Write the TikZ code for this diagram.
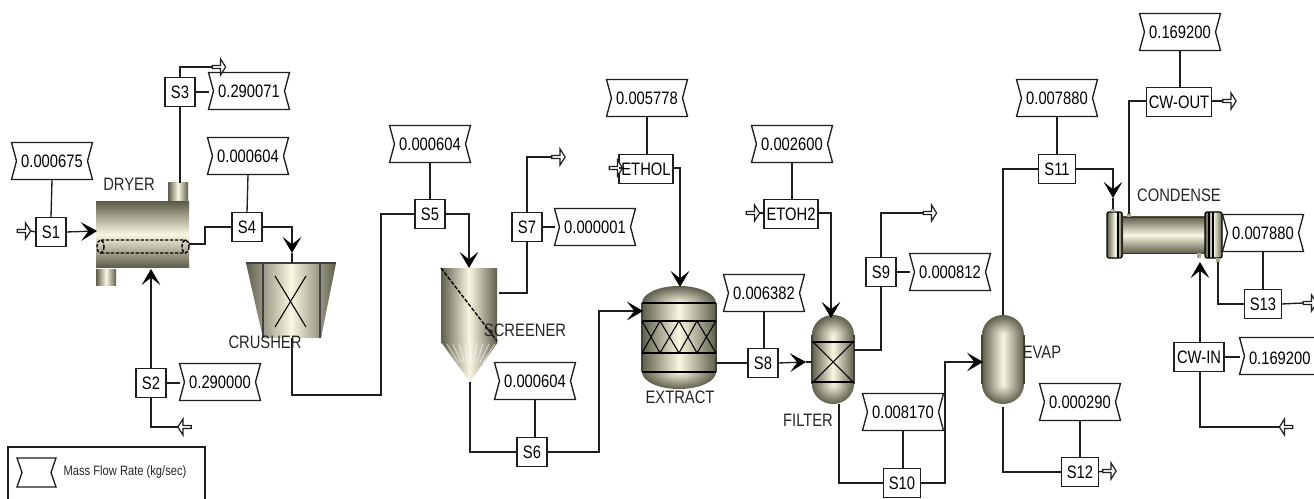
\documentclass[tikz,border=0pt]{standalone}
\usepackage{fontspec}
\setmainfont[FakeStretch=0.82]{Liberation Sans}
\usetikzlibrary{arrows.meta,calc,shapes.arrows}
\definecolor{ink}{HTML}{1E1E1E}
\definecolor{shdark}{HTML}{5E5E4C}
\definecolor{shmid}{HTML}{A9A992}
\definecolor{shlight}{HTML}{F8F8E2}
\tikzset{
  conn/.style={draw=ink,line width=1pt},
  flow/.style={conn,-{Stealth[length=12pt,width=14pt,inset=5.5pt,color=black]}},
  stream/.style={draw=ink,line width=1pt,fill=white,inner sep=0pt,outer sep=0pt,minimum width=22.5pt,minimum height=21.75pt,font=\fontsize{13.5}{15}\selectfont},
  widestream/.style={stream,minimum width=27.75pt},
  flagtext/.style={inner sep=0pt,outer sep=0pt,minimum width=60.75pt,minimum height=27.75pt,font=\fontsize{13.5}{15}\selectfont},
  flagline/.style={draw=ink,line width=1pt,line join=miter},
  lbl/.style={inner sep=0pt,outer sep=0pt,font=\fontsize{13.5}{15}\selectfont,text=black!85},
  portr/.style={single arrow,draw=ink,line width=.9pt,fill=white,inner sep=0pt,outer sep=0pt,minimum height=10pt,minimum width=12pt,single arrow head extend=2pt,single arrow tip angle=115,single arrow head indent=0pt},
  portl/.style={portr,shape border rotate=180},
  hgrad/.style={left color=shdark,right color=shdark,middle color=shlight},
  vgrad/.style={top color=shdark,bottom color=shdark,middle color=shlight},
  eqline/.style={draw=black,line width=.85pt},
}
\newcommand{\flagbox}[4]{%
  \node[flagtext] (#1) at (#2,#3) {#4};
  \draw[flagline] (#1.north west)--(#1.north east)--($(#1.east)+(-5,0)$)--(#1.south east)--(#1.south west)--($(#1.west)+(5,0)$)--cycle;}
% vessel: x-left, x-right, body top, body bottom, dome height
\newcommand{\vessel}[5]{%
  \pgfmathsetmacro{\vcx}{(#1+#2)/2}\pgfmathsetmacro{\vrx}{(#2-#1)/2}
  \begin{scope}\clip (#1-1,#3-#5-1) rectangle (#2+1,#3);
    \shade[inner color=shlight,outer color=shdark] (\vcx,#3) ellipse [x radius=\vrx,y radius=#5];
  \end{scope}
  \begin{scope}\clip (#1-1,#4) rectangle (#2+1,#4+#5+1);
    \shade[inner color=shlight,outer color=shdark] (\vcx,#4) ellipse [x radius=\vrx,y radius=#5];
  \end{scope}
  \shade[hgrad] (#1,#3) rectangle (#2,#4);
  \draw[draw=shdark!70!black,line width=.8pt] (#1,#3) -- (#1,#4) (#2,#3) -- (#2,#4);}
\begin{document}
\begin{tikzpicture}[x=0.75pt,y=-0.75pt]
\path[use as bounding box,clip] (0,0) rectangle (1314,499);
\fill[white] (0,0) rectangle (1314,499);

% ---------- equipment ----------
% dryer
\node[inner sep=0,outer sep=0,minimum width=69.75pt,minimum height=48.75pt,vgrad] (dryer) at (142.5,234.5) {};
\shade[hgrad] (168,183) rectangle (188,201);
\shade[hgrad] (96,269) rectangle (116,285);
\draw[black,line width=1pt,dash pattern=on 2.5pt off 1.2pt] (101,240) -- (186,240) (101,253) -- (186,253)
  (100.5,246.5) ellipse [x radius=3.5,y radius=6.5] (185.5,246.5) ellipse [x radius=3.5,y radius=6.5];
\coordinate (dryerIn) at (97,231);
\coordinate (dryerBot) at (151,269);
\coordinate (dryerTop) at (180,183);
\coordinate (dryerOut) at (189,244);

% crusher
\shade[hgrad] (246,263) -- (336,263) -- (321,338) -- (263,338) -- cycle;
\draw[eqline,draw=black!75] (246,263) -- (336,263) (263,263) -- (263,338) (320,263) -- (320,338);
\draw[black,line width=.8pt] (275,276) -- (306,327) (306,276) -- (275,327);
\coordinate (crusherIn) at (292,263);
\coordinate (crusherTip) at (292,253);
\coordinate (crusherOut) at (292,338);

% screener
\shade[hgrad] (441,268) rectangle (497,342);
\shade[hgrad] (441,342) -- (498,342) -- (470,382) -- cycle;
\foreach \xx in {447,453,...,495}{
  \draw[white,opacity=.7,line width=.5pt] (\xx,344) -- ({\xx+(470-\xx)*0.5},363);}
\draw[black,line width=1pt,dash pattern=on 3pt off 1.2pt] (441,268) -- (497,341);
\coordinate (screenIn) at (469,268);
\coordinate (screenTop) at (499,293);
\coordinate (screenBot) at (470,382);

% extract
\vessel{642}{716}{303}{372}{17}
\draw[eqline] (642,303) -- (716,303) (642,321) -- (716,321) (642,353) -- (716,353) (642,372) -- (716,372);
\draw[black,line width=.8pt] (642,321) -- (660,353) -- (679,321) -- (697,353) -- (716,321)
  (642,353) -- (660,321) -- (679,353) -- (697,321) -- (716,353);
\coordinate (extractTop) at (680,287);
\coordinate (extractIn) at (643,311);
\coordinate (extractOut) at (716,363);

% filter
\vessel{812}{854}{335}{384}{20}
\draw[eqline] (812,342) -- (854,342) (812,382) -- (854,382);
\draw[black,line width=.8pt] (813,342) -- (853,382) (853,342) -- (813,382);
\coordinate (filterTop) at (831,318);
\coordinate (filterIn) at (806,362);
\coordinate (filterEdge) at (812,362);
\coordinate (filterOut) at (854,350);
\coordinate (filterBot) at (839,404);

% evaporator
\vessel{982}{1024}{335}{384}{20}
\coordinate (evapIn) at (983,362);
\coordinate (evapTop) at (1003,315);
\coordinate (evapBot) at (1003,407);

% condenser
\shade[vgrad] (1122,217) rectangle (1205,253);
\shade[hgrad,rounded corners=1.5pt] (1107,212) rectangle (1123,258);
\shade[hgrad,rounded corners=1.5pt] (1205,212) rectangle (1222,258);
\draw[black,line width=.9pt,rounded corners=1.5pt] (1107,212) rectangle (1122,258);
\draw[black,line width=.9pt,rounded corners=1.5pt] (1205,212) rectangle (1222,258);
\draw[black,line width=.9pt] (1118,212) -- (1118,258) (1209,212) -- (1209,258) (1213,212) -- (1213,258);
\draw[black!80,line width=.7pt] (1122,217) -- (1205,217) (1122,253) -- (1205,253);
\fill[shmid] (1111,209) rectangle (1115,212) (1127,213) rectangle (1131,217) (1197,253) rectangle (1201,258) (1216,258) rectangle (1220,262);
\coordinate (condIn) at (1113,198);
\coordinate (condNozIn) at (1113,209);
\coordinate (condShellOut) at (1129,214);
\coordinate (condShellIn) at (1200,262);
\coordinate (condOut) at (1218,262);

% ---------- streams ----------
\node[stream] (s1) at (51,232) {S1};
\node[stream] (s2) at (151,383) {S2};
\node[stream] (s3) at (180,92) {S3};
\node[stream] (s4) at (247,227) {S4};
\node[stream] (s5) at (430,214) {S5};
\node[stream] (s6) at (532,452) {S6};
\node[stream] (s7) at (527,227) {S7};
\node[stream] (s8) at (763,363) {S8};
\node[stream] (s9) at (881,272) {S9};
\node[widestream] (s10) at (902,483) {S10};
\node[widestream] (s11) at (1057,169) {S11};
\node[widestream] (s12) at (1080,472) {S12};
\node[widestream] (s13) at (1263,304) {S13};
\node[widestream,minimum width=40.5pt] (ethol) at (646,169) {ETHOL};
\node[widestream,minimum width=40.5pt] (etoh2) at (791,214) {ETOH2};
\node[widestream,minimum width=48.75pt] (cwout) at (1179,102) {CW-OUT};
\node[widestream,minimum width=37.5pt] (cwin) at (1199,357) {CW-IN};

% ---------- flags ----------
\flagbox{f1}{52}{161}{0.000675}
\flagbox{f3}{249}{91}{0.290071}
\flagbox{f4}{248}{156}{0.000604}
\flagbox{f2}{220}{382}{0.290000}
\flagbox{f5}{430}{144}{0.000604}
\flagbox{f7}{595}{227}{0.000001}
\flagbox{f6}{535}{381}{0.000604}
\flagbox{fethol}{647}{98}{0.005778}
\flagbox{fetoh}{792}{144}{0.002600}
\flagbox{f8}{764}{293}{0.006382}
\flagbox{f9}{950}{272}{0.000812}
\flagbox{f10}{903}{412}{0.008170}
\flagbox{f11}{1057}{98}{0.007880}
\flagbox{f12}{1080}{402}{0.000290}
\flagbox{fcwout}{1180}{32}{0.169200}
\flagbox{f13}{1263}{233}{0.007880}
\flagbox{fcwin}{1280}{356}{}
\node[flagtext,minimum width=0pt,anchor=west] (fcwintext) at (1249,358) {0.169200};

% ---------- ports ----------
\node[portr] (p1) at (23.5,231) {};
\node[portr] (p3) at (218.5,67) {};
\node[portl] (p2) at (185,427) {};
\node[portr] (p7) at (558,157) {};
\node[portr] (pethol) at (615.5,168) {};
\node[portr] (petoh) at (752.5,213) {};
\node[portr] (p9) at (929.5,213) {};
\node[portr] (p12) at (1109,471) {};
\node[portr] (p13) at (1309.5,303) {};
\node[portr] (pcwout) at (1229,101) {};
\node[portl] (pcwin) at (1286.5,427) {};

% ---------- connectors ----------
\draw[conn] (f1.south) -- (s1.north);
\draw[conn] (p1.tip) -- (s1.west);
\draw[flow] (s1.east) -- (dryerIn);
\draw[flow] (s2.north) -- (dryerBot);
\draw[conn] (s2.east) -- (s2.east -| f2.west);
\draw[conn] (s2.south) |- (p2.tip);
\draw[conn] (s3.south) -- (dryerTop);
\draw[conn] (s3.north) |- (p3.tail);
\draw[conn] (s3.east) -- (s3.east -| f3.west);
\draw[conn] (dryerOut) -- (205,244) |- (s4.west);
\draw[conn] (f4.south) -- (s4.north);
\draw[flow] (s4.east) -| (crusherTip);
\draw[conn] (crusherTip) -- (crusherIn);
\draw[conn] (crusherOut) |- (381,395) |- (s5.west);
\draw[conn] (f5.south) -- (s5.north);
\draw[flow] (s5.east) -| (screenIn);
\draw[conn] (screenTop) -| (s7.south);
\draw[conn] (s7.north) |- (p7.tail);
\draw[conn] (s7.east) -- (s7.east -| f7.west);
\draw[conn] (screenBot) |- (s6.west);
\draw[conn] (f6.south) -- (f6.south |- s6.north);
\draw[flow] (s6.east) -- (599,452) |- (extractIn);
\draw[conn] (fethol.south) -- (fethol.south |- ethol.north);
\draw[conn] (pethol.tip) -- (pethol.tip -| ethol.west);
\draw[flow] (ethol.east |- pethol.tip) -| (extractTop);
\draw[conn] (extractOut) -- (extractOut -| s8.west);
\draw[conn] (f8.south) -- (f8.south |- s8.north);
\draw[flow] (s8.east) -- (filterIn);
\draw[conn] (filterIn) -- (filterEdge);
\draw[conn] (fetoh.south) -- (fetoh.south |- etoh2.north);
\draw[conn] (petoh.tip) -- (petoh.tip -| etoh2.west);
\draw[flow] (etoh2.east |- petoh.tip) -| (filterTop);
\draw[conn] (filterOut) -| (s9.south);
\draw[conn] (s9.north) |- (p9.tail);
\draw[conn] (s9.east) -- (s9.east -| f9.west);
\draw[conn] (filterBot) |- (s10.west);
\draw[conn] (f10.south) -- (f10.south |- s10.north);
\draw[flow] (s10.east) -- (945,483) |- (evapIn);
\draw[conn] (evapTop) |- (s11.west);
\draw[conn] (f11.south) -- (f11.south |- s11.north);
\draw[flow] (s11.east) -| (condIn);
\draw[conn] (condIn) -- (condNozIn);
\draw[conn] (evapBot) |- (s12.west);
\draw[conn] (f12.south) -- (s12.north);
\draw[conn] (s12.east) -- (p12.tail);
\draw[conn] (condShellOut) |- (cwout.west |- pcwout.tail);
\draw[conn] (fcwout.south) -- (fcwout.south |- cwout.north);
\draw[conn] (cwout.east |- pcwout.tail) -- (pcwout.tail);
\draw[flow] (cwin.north -| condShellIn) -- (condShellIn);
\draw[conn] (cwin.east) -- (cwin.east -| fcwin.west);
\draw[conn] (cwin.south -| condShellIn) |- (pcwin.tip);
\draw[conn] (f13.south) -- (f13.south |- s13.north);
\draw[conn] (condOut) |- (s13.west);
\draw[conn] (s13.east) -- (p13.tail);

% ---------- labels ----------
\node[lbl] (ldryer) at (129,184) {DRYER};
\node[lbl] (lcrusher) at (265,342) {CRUSHER};
\node[lbl] (lscreener) at (525,330) {SCREENER};
\node[lbl] (lextract) at (680,397) {EXTRACT};
\node[lbl] (lfilter) at (808,420) {FILTER};
\node[lbl] (levap) at (1042,352) {EVAP};
\node[lbl] (lcond) at (1179,195) {CONDENSE};

% ---------- legend ----------
\node[draw=ink,line width=1pt,inner sep=0,outer sep=0,minimum width=147.75pt,minimum height=45pt,fill=white] (legend) at (106.5,477) {};
\node[inner sep=0,outer sep=0,minimum width=29.25pt,minimum height=21.75pt] (legflag) at (36.5,472.5) {};
\draw[flagline] (legflag.north west)--(legflag.north east)--($(legflag.east)+(-5,0)$)--(legflag.south east)--(legflag.south west)--($(legflag.west)+(5,0)$)--cycle;
\node[lbl,font=\fontsize{10.2}{11}\selectfont] (legtext) at (125,472) {Mass Flow Rate (kg/sec)};
\end{tikzpicture}
\end{document}
